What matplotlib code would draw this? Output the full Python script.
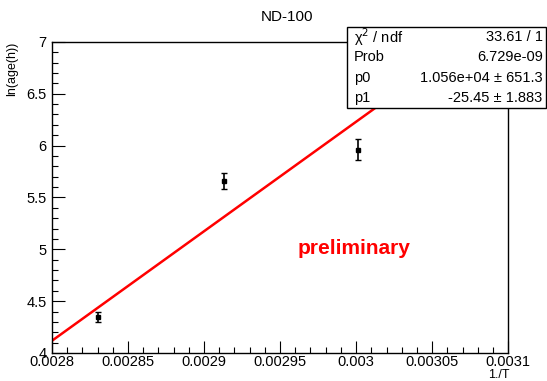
import numpy as np
import matplotlib
matplotlib.use("Agg")
import matplotlib.pyplot as plt
from matplotlib.ticker import MultipleLocator, FormatStrFormatter

plt.rcParams["font.family"] = ["Liberation Sans", "DejaVu Sans"]

# measured points: 1/T vs ln(age)
inv_t = [0.00283, 0.002913, 0.003001]
ln_age = [4.35, 5.66, 5.96]
ln_age_err = [0.05, 0.08, 0.10]

# fit results (pol1) as printed in the stat box
p0, p0_err = 1.056e4, 651.3
p1, p1_err = -25.45, 1.883
stat_rows = [
    ("χ$^{2}$ / ndf", "33.61 / 1"),
    ("Prob", "6.729e-09"),
    ("p0", "1.056e+04 ± 651.3"),
    ("p1", "-25.45 ± 1.883"),
]

fig = plt.figure(figsize=(5.47, 3.81), dpi=100)
ax = fig.add_axes([0.095, 0.0735, 0.834, 0.8165])

# fit line y = p1 + p0 * x
fx = np.linspace(0.0028, 0.0031, 200)
ax.plot(fx, p1 + p0 * fx, color="red", lw=1.8, zorder=2)

ax.errorbar(inv_t, ln_age, yerr=ln_age_err, fmt="s", ms=3, color="black",
            ecolor="black", elinewidth=1.2, capsize=2, capthick=1, zorder=3)

ax.set_xlim(0.0028, 0.0031)
ax.set_ylim(4, 7)
ax.xaxis.set_major_locator(MultipleLocator(0.00005))
ax.xaxis.set_minor_locator(MultipleLocator(0.00001))
ax.yaxis.set_major_locator(MultipleLocator(0.5))
ax.yaxis.set_minor_locator(MultipleLocator(0.1))
ax.xaxis.set_major_formatter(FormatStrFormatter("%g"))
ax.yaxis.set_major_formatter(FormatStrFormatter("%g"))
ax.tick_params(which="both", direction="in", top=False, right=False, labelsize=10.5)
ax.tick_params(which="major", length=9, width=0.8)
ax.tick_params(which="minor", length=4.5, width=0.8)
ax.tick_params(axis="x", pad=1.5)
ax.tick_params(axis="y", pad=4)
for s in ax.spines.values():
    s.set_linewidth(1)

ax.set_ylabel("ln(age(h))", fontsize=9, loc="top", labelpad=6)
fig.text(510 / 547, 1 - 375 / 381, "1./T", fontsize=9, ha="right", va="center")

fig.text(0.525, 0.955, "ND-100", ha="center", va="center", fontsize=11)
fig.text(410 / 547, 1 - 248 / 381, "preliminary", color="red",
         fontsize=15, fontweight="bold", ha="right", va="center")

# stat box
bx0, by0, bx1, by1 = 347 / 547, 1 - 108 / 381, 546 / 547, 1 - 27 / 381
fig.patches.append(plt.Rectangle((bx0, by0), bx1 - bx0, by1 - by0,
                                 transform=fig.transFigure, fc="white",
                                 ec="black", lw=1, zorder=5))
rh = (by1 - by0) / len(stat_rows)
for i, (k, v) in enumerate(stat_rows):
    yy = by1 - rh * (i + 0.5)
    fig.text(bx0 + 0.012, yy, k, fontsize=10.5, va="center", ha="left", zorder=6)
    fig.text(bx1 - 0.006, yy, v, fontsize=10.5, va="center", ha="right", zorder=6)

fig.savefig("out.png", dpi=100)
